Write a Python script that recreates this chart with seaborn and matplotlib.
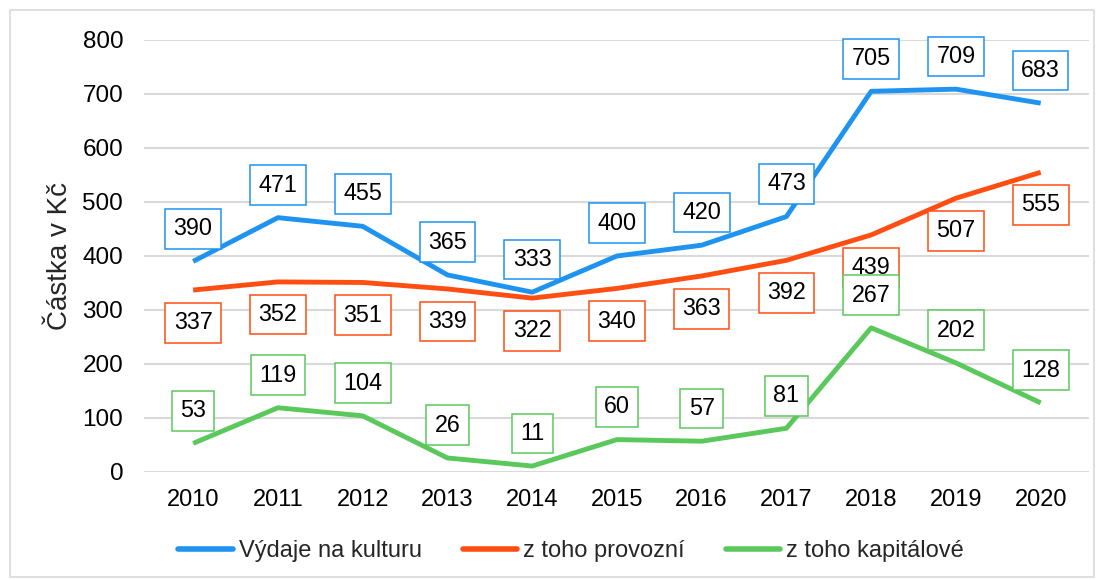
import matplotlib
matplotlib.use("Agg")
import matplotlib.pyplot as plt
import seaborn as sns
import pandas as pd
from matplotlib.patches import Rectangle

years = ["2010", "2011", "2012", "2013", "2014", "2015", "2016", "2017", "2018", "2019", "2020"]
vydaje = [390, 471, 455, 365, 333, 400, 420, 473, 705, 709, 683]
provozni = [337, 352, 351, 339, 322, 340, 363, 392, 439, 507, 555]
kapitalove = [53, 119, 104, 26, 11, 60, 57, 81, 267, 202, 128]
series_names = ["Výdaje na kulturu", "z toho provozní", "z toho kapitálové"]
yticks = [0, 100, 200, 300, 400, 500, 600, 700, 800]

colors = ["#1F93F0", "#FF4E12", "#5BC85B"]
label_side = [1, -1, 1]  # above / below

sns.set_theme(style="white")
plt.rcParams['font.family'] = ['Liberation Sans', 'DejaVu Sans']

rows = []
for name, vals in zip(series_names, [vydaje, provozni, kapitalove]):
    for i, (y, v) in enumerate(zip(years, vals)):
        rows.append({"idx": i, "year": y, "value": v, "series": name})
df = pd.DataFrame(rows)

fig = plt.figure(figsize=(11.04, 5.8), dpi=100)
ax = fig.add_axes([144/1104, 1 - 472/580, (1089 - 144)/1104, (472 - 40)/580])

sns.lineplot(data=df, x="idx", y="value", hue="series", hue_order=series_names,
             palette=colors, linewidth=3.5, ax=ax, legend=True,
             solid_capstyle="butt", solid_joinstyle="round")

ax.set_ylim(0, 800)
ax.set_xlim(-0.58, 10.57)
ax.set_yticks(yticks)
ax.set_yticklabels([str(t) for t in yticks], fontsize=17.5)
ax.set_xticks(range(len(years)))
ax.set_xticklabels(years, fontsize=17)
ax.tick_params(axis='both', length=0, colors='black')
ax.tick_params(axis='x', pad=12)
ax.tick_params(axis='y', pad=15)
ax.grid(axis='y', color='#D9D9D9', linewidth=1.5)
ax.set_axisbelow(True)
for s in ax.spines.values():
    s.set_visible(False)
ax.set_xlabel("")
ax.set_ylabel("Částka v Kč", fontsize=20, labelpad=7)

for vals, c, side in zip([vydaje, provozni, kapitalove], colors, label_side):
    for i, v in enumerate(vals):
        ax.annotate(str(v), xy=(i, v), xytext=(0, 23.5 * side), textcoords="offset points",
                    ha="center", va="center", fontsize=16.8, color="black",
                    bbox=dict(boxstyle="square,pad=0.36", fc="white", ec=c, lw=1.1),
                    zorder=5)

handles, labels = ax.get_legend_handles_labels()
leg = ax.legend(handles, labels, loc="center", bbox_to_anchor=(0.452, -0.183), ncol=3,
                frameon=False, fontsize=17, handlelength=2.3, handletextpad=0.25,
                columnspacing=1.75)
for h in leg.get_lines():
    h.set_solid_capstyle("round")
    h.set_linewidth(4)

fig.patches.append(Rectangle((10/1104, 3/580), 1084/1104, 567/580, transform=fig.transFigure,
                             fill=False, ec="#D9D9D9", lw=1.2))

fig.savefig("out.png", dpi=100)
